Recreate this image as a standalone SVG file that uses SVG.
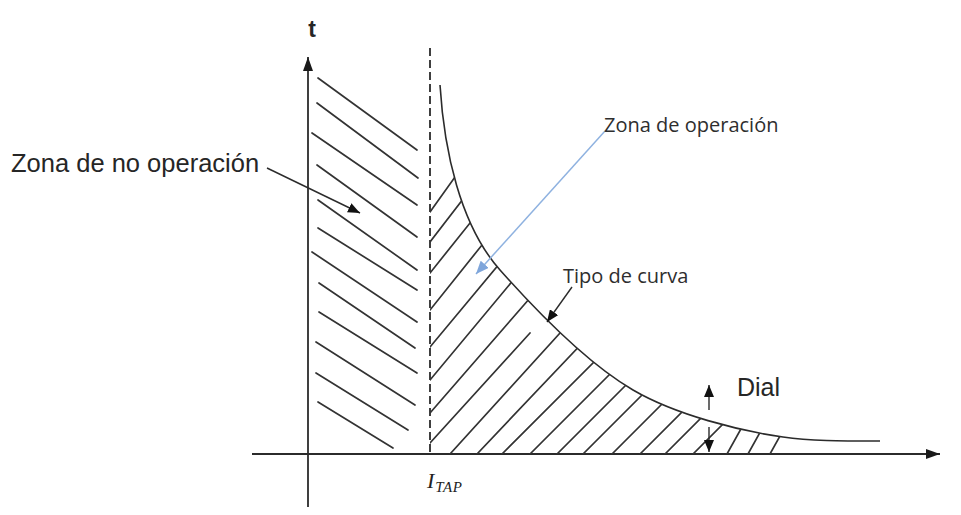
<svg xmlns="http://www.w3.org/2000/svg" width="961" height="515" viewBox="0 0 961 515">
<style>
.ax{stroke:#2b2b2b;stroke-width:1.8;fill:none}
.h{stroke:#333;stroke-width:1.7;fill:none;stroke-linecap:round}
.cv{stroke:#2b2b2b;stroke-width:1.6;fill:none}
.lbl{font-family:"Liberation Sans",Arial,sans-serif;fill:#262626}
.lbl2{font-family:"Open Sans","Liberation Sans",sans-serif;fill:#2e2e2e}
.ptr{stroke:#2b2b2b;stroke-width:1.4;fill:none}
</style>
<defs>
<marker id="big" viewBox="0 0 14 10" refX="14" refY="5" markerWidth="14" markerHeight="10" markerUnits="userSpaceOnUse" orient="auto"><path d="M0,0 L14,5 L0,10 z" fill="#1a1a1a"/></marker>
<marker id="sm" viewBox="0 0 12 10" refX="12" refY="5" markerWidth="12" markerHeight="10" markerUnits="userSpaceOnUse" orient="auto"><path d="M0,0 L12,5 L0,10 z" fill="#111"/></marker>
<marker id="blue" viewBox="0 0 12 10" refX="12" refY="5" markerWidth="13" markerHeight="11" markerUnits="userSpaceOnUse" orient="auto"><path d="M0,0 L12,5 L0,10 z" fill="#7fa6db"/></marker>
<clipPath id="opz"><path d="M440,85 C444,150 460,225 500,270 C540,315 590,365 633,390 C676,415 740,431 783,437 C810,441 840,441 880,441 L880,454 L430,454 L430,85 Z"/></clipPath>
</defs>

<g id="axes">
<line class="ax" x1="308" y1="507" x2="308" y2="57" marker-end="url(#big)"/>
<line class="ax" x1="252" y1="454" x2="940" y2="454" marker-end="url(#big)"/>
<line class="ax" x1="430" y1="48" x2="430" y2="454" stroke-dasharray="8,4"/>
</g>

<g id="curve">
<path class="cv" d="M440,85 C444,150 460,225 500,270 C540,315 590,365 633,390 C676,415 740,431 783,437 C810,441 840,441 880,441"/>
</g>

<g id="no-operation-hatch">
<line class="h" x1="318" y1="78" x2="417" y2="150"/>
<line class="h" x1="317" y1="103" x2="418" y2="178"/>
<line class="h" x1="312" y1="133" x2="417" y2="205"/>
<line class="h" x1="317" y1="165" x2="417" y2="237"/>
<line class="h" x1="318" y1="200" x2="417" y2="270"/>
<line class="h" x1="318" y1="228" x2="417" y2="290"/>
<line class="h" x1="312" y1="252" x2="417" y2="322"/>
<line class="h" x1="319" y1="283" x2="415" y2="348"/>
<line class="h" x1="319" y1="312" x2="417" y2="373"/>
<line class="h" x1="316" y1="342" x2="415" y2="405"/>
<line class="h" x1="316" y1="373" x2="408" y2="430"/>
<line class="h" x1="318" y1="402" x2="393" y2="448"/>
</g>

<g id="operation-hatch" clip-path="url(#opz)">
<line class="h" x1="430" y1="212" x2="530" y2="72"/>
<line class="h" x1="430" y1="242" x2="530" y2="112"/>
<line class="h" x1="430" y1="273" x2="530" y2="148"/>
<line class="h" x1="430" y1="310" x2="530" y2="185"/>
<line class="h" x1="430" y1="347" x2="530" y2="227"/>
<line class="h" x1="430" y1="380" x2="530" y2="260"/>
<line class="h" x1="430" y1="413" x2="530" y2="298"/>
<line class="h" x1="430" y1="443" x2="530" y2="333"/>
<line class="h" x1="450" y1="454" x2="600" y2="289"/>
<line class="h" x1="477" y1="454" x2="627" y2="296"/>
<line class="h" x1="502" y1="454" x2="652" y2="304"/>
<line class="h" x1="530" y1="454" x2="680" y2="304"/>
<line class="h" x1="557" y1="454" x2="707" y2="304"/>
<line class="h" x1="583" y1="454" x2="733" y2="304"/>
<line class="h" x1="612" y1="454" x2="762" y2="304"/>
<line class="h" x1="640" y1="454" x2="790" y2="304"/>
<line class="h" x1="665" y1="454" x2="815" y2="304"/>
<line class="h" x1="693" y1="454" x2="843" y2="304"/>
<line class="h" x1="727" y1="454" x2="777" y2="364"/>
<line class="h" x1="748" y1="454" x2="798" y2="364"/>
<line class="h" x1="770" y1="454" x2="820" y2="364"/>
</g>

<g id="connectors">
<line class="ptr" x1="267" y1="168" x2="360" y2="213" marker-end="url(#sm)"/>
<line x1="605" y1="131" x2="476" y2="274" stroke="#8fb2e0" stroke-width="1.5" marker-end="url(#blue)"/>
<line class="ptr" x1="572" y1="287" x2="547" y2="322" marker-end="url(#sm)"/>
<line class="ptr" x1="709" y1="410" x2="709" y2="385" marker-end="url(#sm)"/>
<line class="ptr" x1="709" y1="427" x2="709" y2="452" marker-end="url(#sm)"/>
</g>

<g id="label-t"><text class="lbl" x="312" y="37" font-size="23" font-weight="bold" text-anchor="middle">t</text></g>
<g id="label-no-op"><text class="lbl" x="11" y="172" font-size="25.5">Zona de no operación</text></g>
<g id="label-op"><text class="lbl2" x="604" y="132" font-size="20">Zona de operación</text></g>
<g id="label-curve"><text class="lbl2" x="563" y="283" font-size="20">Tipo de curva</text></g>
<g id="label-dial"><text class="lbl" x="737" y="396" font-size="25">Dial</text></g>
<g id="label-itap"><text font-family="'Liberation Serif',serif" font-style="italic" fill="#222" x="427" y="488" font-size="22">I<tspan font-size="15" dy="4" dx="1" letter-spacing="0.5">TAP</tspan></text></g>
</svg>
